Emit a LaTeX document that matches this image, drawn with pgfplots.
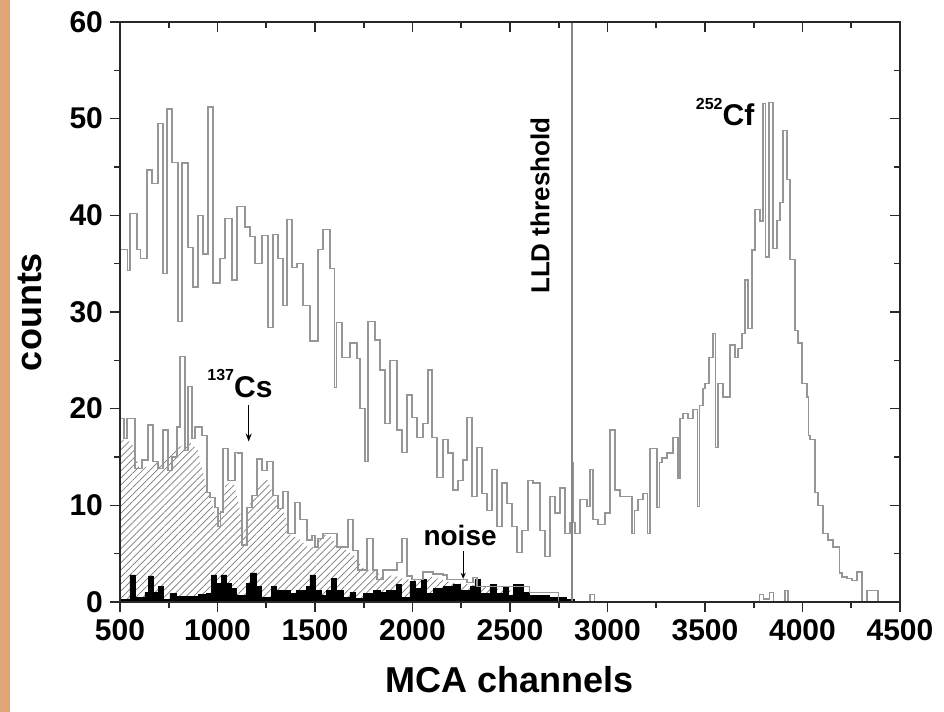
\documentclass[border=0pt]{standalone}
\usepackage{fontspec}
\setmainfont{Liberation Sans}
\usepackage{pgfplots}
\pgfplotsset{compat=1.18}
\usepackage{pgfplotstable}
\usetikzlibrary{patterns.meta,arrows.meta}
\definecolor{strip}{RGB}{222,166,116}
\definecolor{histgray}{RGB}{150,150,150}
\definecolor{hatchgray}{RGB}{120,120,120}
\definecolor{framec}{RGB}{40,40,40}

\pgfplotstableread{
x y
500 36.5
538 34.3
551 40.2
587 36.5
604 35.5
638 44.7
664 43.3
695 49.5
720 34.0
741 51.0
767 45.5
797 29.0
818 45.4
849 36.7
874 32.6
900 40.0
926 36.0
951 51.2
977 33.0
1013 35.5
1038 39.7
1074 33.3
1100 40.9
1141 38.8
1167 37.8
1192 35.0
1228 37.9
1259 28.4
1285 38.0
1310 35.5
1336 30.7
1356 39.6
1382 34.6
1408 35.0
1438 30.7
1474 27.0
1515 36.5
1541 38.5
1577 34.5
1600 22.2
1610 28.9
1638 25.3
1679 26.8
1715 25.2
1731 20.0
1756 14.5
1772 29.0
1808 27.1
1833 24.0
1859 18.5
1885 25.0
1920 17.8
1946 15.5
1972 21.4
1997 19.1
2023 17.0
2054 18.5
2079 24.0
2100 17.0
2126 12.9
2156 16.8
2182 15.4
2208 11.6
2233 12.6
2259 14.7
2279 19.1
2305 10.9
2331 16.0
2356 11.2
2382 9.5
2408 13.7
2433 7.8
2459 12.3
2485 10.2
2510 7.8
2536 5.1
2562 7.4
2592 12.6
2618 12.3
2654 7.4
2679 4.7
2705 10.9
2731 9.2
2756 11.8
2782 7.1
2808 8.2
2815 14.4
2825 8.2
2833 7.1
2859 10.6
2895 9.9
2910 13.7
2926 8.5
2951 8.0
2987 9.2
3013 17.8
3038 11.6
3064 10.9
3126 7.1
3140 9.5
3156 10.6
3182 11.2
3205 7.1
3218 15.9
3254 9.8
3265 14.4
3279 14.9
3305 15.4
3336 17.0
3362 12.8
3372 19.0
3387 19.5
3413 19.0
3438 19.9
3460 9.9
3472 20.3
3490 22.1
3500 22.6
3520 25.3
3541 27.8
3555 16.0
3567 22.6
3592 21.2
3628 26.6
3654 25.3
3669 26.2
3690 27.8
3705 33.3
3720 28.3
3741 36.4
3756 40.6
3782 39.4
3797 51.6
3812 35.7
3828 51.7
3849 36.6
3869 39.5
3885 41.3
3900 48.8
3921 43.7
3936 35.4
3962 28.1
3977 26.8
3997 22.6
4023 21.2
4030 17.2
4038 16.8
4064 11.3
4079 10.0
4105 7.1
4131 6.4
4156 5.7
4177 5.7
4190 3.0
4203 2.6
4228 2.4
4254 2.2
4279 3.1
4305 0.0
4331 1.2
4387 0.0
4500 0.0
}\cfdata

\pgfplotstableread{
x y
500 19.0
520 16.9
536 19.0
577 13.8
613 14.7
644 18.3
669 14.5
695 13.8
720 17.8
746 13.6
767 15.0
792 18.1
808 25.4
833 15.7
849 22.3
869 16.9
885 18.1
921 17.2
946 11.3
962 10.8
987 9.8
1003 7.8
1015 9.3
1028 15.9
1054 12.6
1090 15.5
1105 15.4
1126 5.9
1151 9.8
1177 11.0
1203 14.8
1228 13.6
1254 14.5
1285 11.0
1310 9.7
1336 11.4
1362 7.1
1397 10.3
1423 8.5
1459 6.4
1485 6.9
1500 5.7
1515 6.6
1541 7.1
1613 5.7
1669 8.5
1695 5.3
1720 3.3
1767 6.6
1797 3.3
1818 2.3
1849 3.3
1920 4.1
1946 6.6
1972 2.7
1997 2.3
2054 3.1
2105 2.9
2156 2.8
2177 2.3
2279 2.0
2310 2.5
2331 1.6
2433 1.6
2600 1.0
2750 0.0
2910 0.8
2935 0.0
3780 0.8
3800 0.3
3830 1.0
3850 0.0
3910 1.2
3925 0.0
4500 0.0
}\csdata

\pgfplotstableread{
x y
500 16.9
560 16.5
600 13.8
640 14.0
700 14.5
760 15.2
800 16.0
860 16.5
900 15.7
940 12.0
990 9.0
1020 9.5
1040 12.0
1080 12.6
1110 10.0
1135 7.0
1160 9.8
1200 11.5
1250 12.9
1300 10.5
1340 9.5
1370 7.0
1420 6.5
1460 5.7
1500 5.7
1540 6.8
1570 7.1
1600 6.2
1650 5.5
1700 4.8
1760 3.2
1800 3.5
1850 2.4
1900 2.8
1950 2.4
2000 2.3
2100 2.6
2200 2.0
2300 1.8
2400 1.5
2500 1.2
2600 0.8
2700 0.4
2750 0.0
}\hatchdata

\pgfplotstableread{
x y
500 0.3
551 2.8
577 0.5
628 1.0
645 2.7
671 1.0
696 1.6
722 0.3
756 0.9
791 0.6
833 0.6
902 0.8
944 0.9
970 2.8
996 1.9
1022 2.8
1047 1.9
1073 1.4
1098 0.7
1150 1.9
1167 3.0
1201 1.6
1227 0.5
1278 1.6
1304 1.2
1372 0.9
1406 1.2
1457 1.6
1474 2.8
1500 1.2
1534 0.7
1560 1.2
1586 2.4
1611 1.2
1645 0.5
1679 1.0
1705 0.4
1748 0.9
1799 1.2
1833 1.0
1868 1.2
1919 1.8
1945 0.5
1987 2.1
2013 1.4
2047 2.3
2073 0.9
2107 1.4
2158 1.6
2209 1.8
2244 1.2
2295 1.6
2320 2.3
2346 0.9
2397 1.8
2432 0.9
2466 1.6
2491 0.7
2517 1.8
2568 1.0
2600 0.7
2700 0.5
2790 0.3
2830 0.0
}\noisedata

\begin{document}
\begin{tikzpicture}
\useasboundingbox (-60pt,-55pt) rectangle (412pt,301pt);
\fill[strip] (-60pt,-55pt) rectangle (-55pt,301pt);
\pgfplotsset{
  myframe/.style={
    at={(0,0)}, anchor=south west,
    scale only axis, width=390pt, height=290pt,
    xmin=500, xmax=4500, ymin=0, ymax=60,
    xtick={500,1000,...,4500}, ytick={0,10,...,60},
    minor x tick num=1, minor y tick num=1,
    major tick length=5pt, minor tick length=2.8pt,
    every tick/.style={line width=0.8pt, framec},
  }
}
\begin{axis}[myframe,
  xtick pos=left, ytick pos=left,
  tick align=outside,
  axis line style={line width=0.9pt, framec},
  ticklabel style={font=\fontsize{15}{15}\selectfont\bfseries},
  /pgf/number format/assume math mode=true,
  /pgf/number format/1000 sep={},
  xlabel={MCA channels}, ylabel={counts},
  every axis x label/.style={at={(axis description cs:0.5,-0.1345)}, anchor=center},
  every axis y label/.style={at={(axis description cs:-0.1154,0.5)}, anchor=center, rotate=90},
  label style={font=\fontsize{18}{18}\selectfont\bfseries},
]
\addplot[draw=none, pattern={Lines[angle=45,distance=2.5pt,line width=0.35pt]}, pattern color=hatchgray] table {\hatchdata} \closedcycle;
\addplot[const plot, fill=black, draw=black, line width=0.3pt] table {\noisedata} \closedcycle;
\addplot[const plot, histgray, line width=0.65pt] table {\csdata};
\addplot[const plot, histgray, line width=0.65pt] table {\cfdata};
\addplot[histgray!90!black, line width=1.1pt] coordinates {(2820,0) (2820,60)};
\node[font=\fontsize{15}{15}\selectfont\bfseries] at (axis cs:1115,22.6) {\raisebox{0.55em}{\fontsize{8}{8}\selectfont 137}Cs};
\draw[-{Stealth[length=4pt,width=3pt]}, line width=0.6pt] (axis cs:1160,20.4) -- (axis cs:1160,16.6);
\node[font=\fontsize{14}{14}\selectfont\bfseries] at (axis cs:2244,6.9) {noise};
\draw[-{Stealth[length=3pt,width=2.5pt]}, line width=0.5pt] (axis cs:2260,5.3) -- (axis cs:2260,2.4);
\node[font=\fontsize{15}{15}\selectfont\bfseries] at (axis cs:3603,50.7) {\raisebox{0.55em}{\fontsize{8}{8}\selectfont 252}Cf};
\node[font=\fontsize{13}{13}\selectfont\bfseries, rotate=90] at (axis cs:2654,41) {LLD threshold};
\end{axis}
\begin{axis}[myframe,
  xtick pos=right, ytick pos=right,
  tick align=inside,
  xticklabels={}, yticklabels={},
  axis line style={line width=0.9pt, framec},
]
\end{axis}
\end{tikzpicture}
\end{document}
